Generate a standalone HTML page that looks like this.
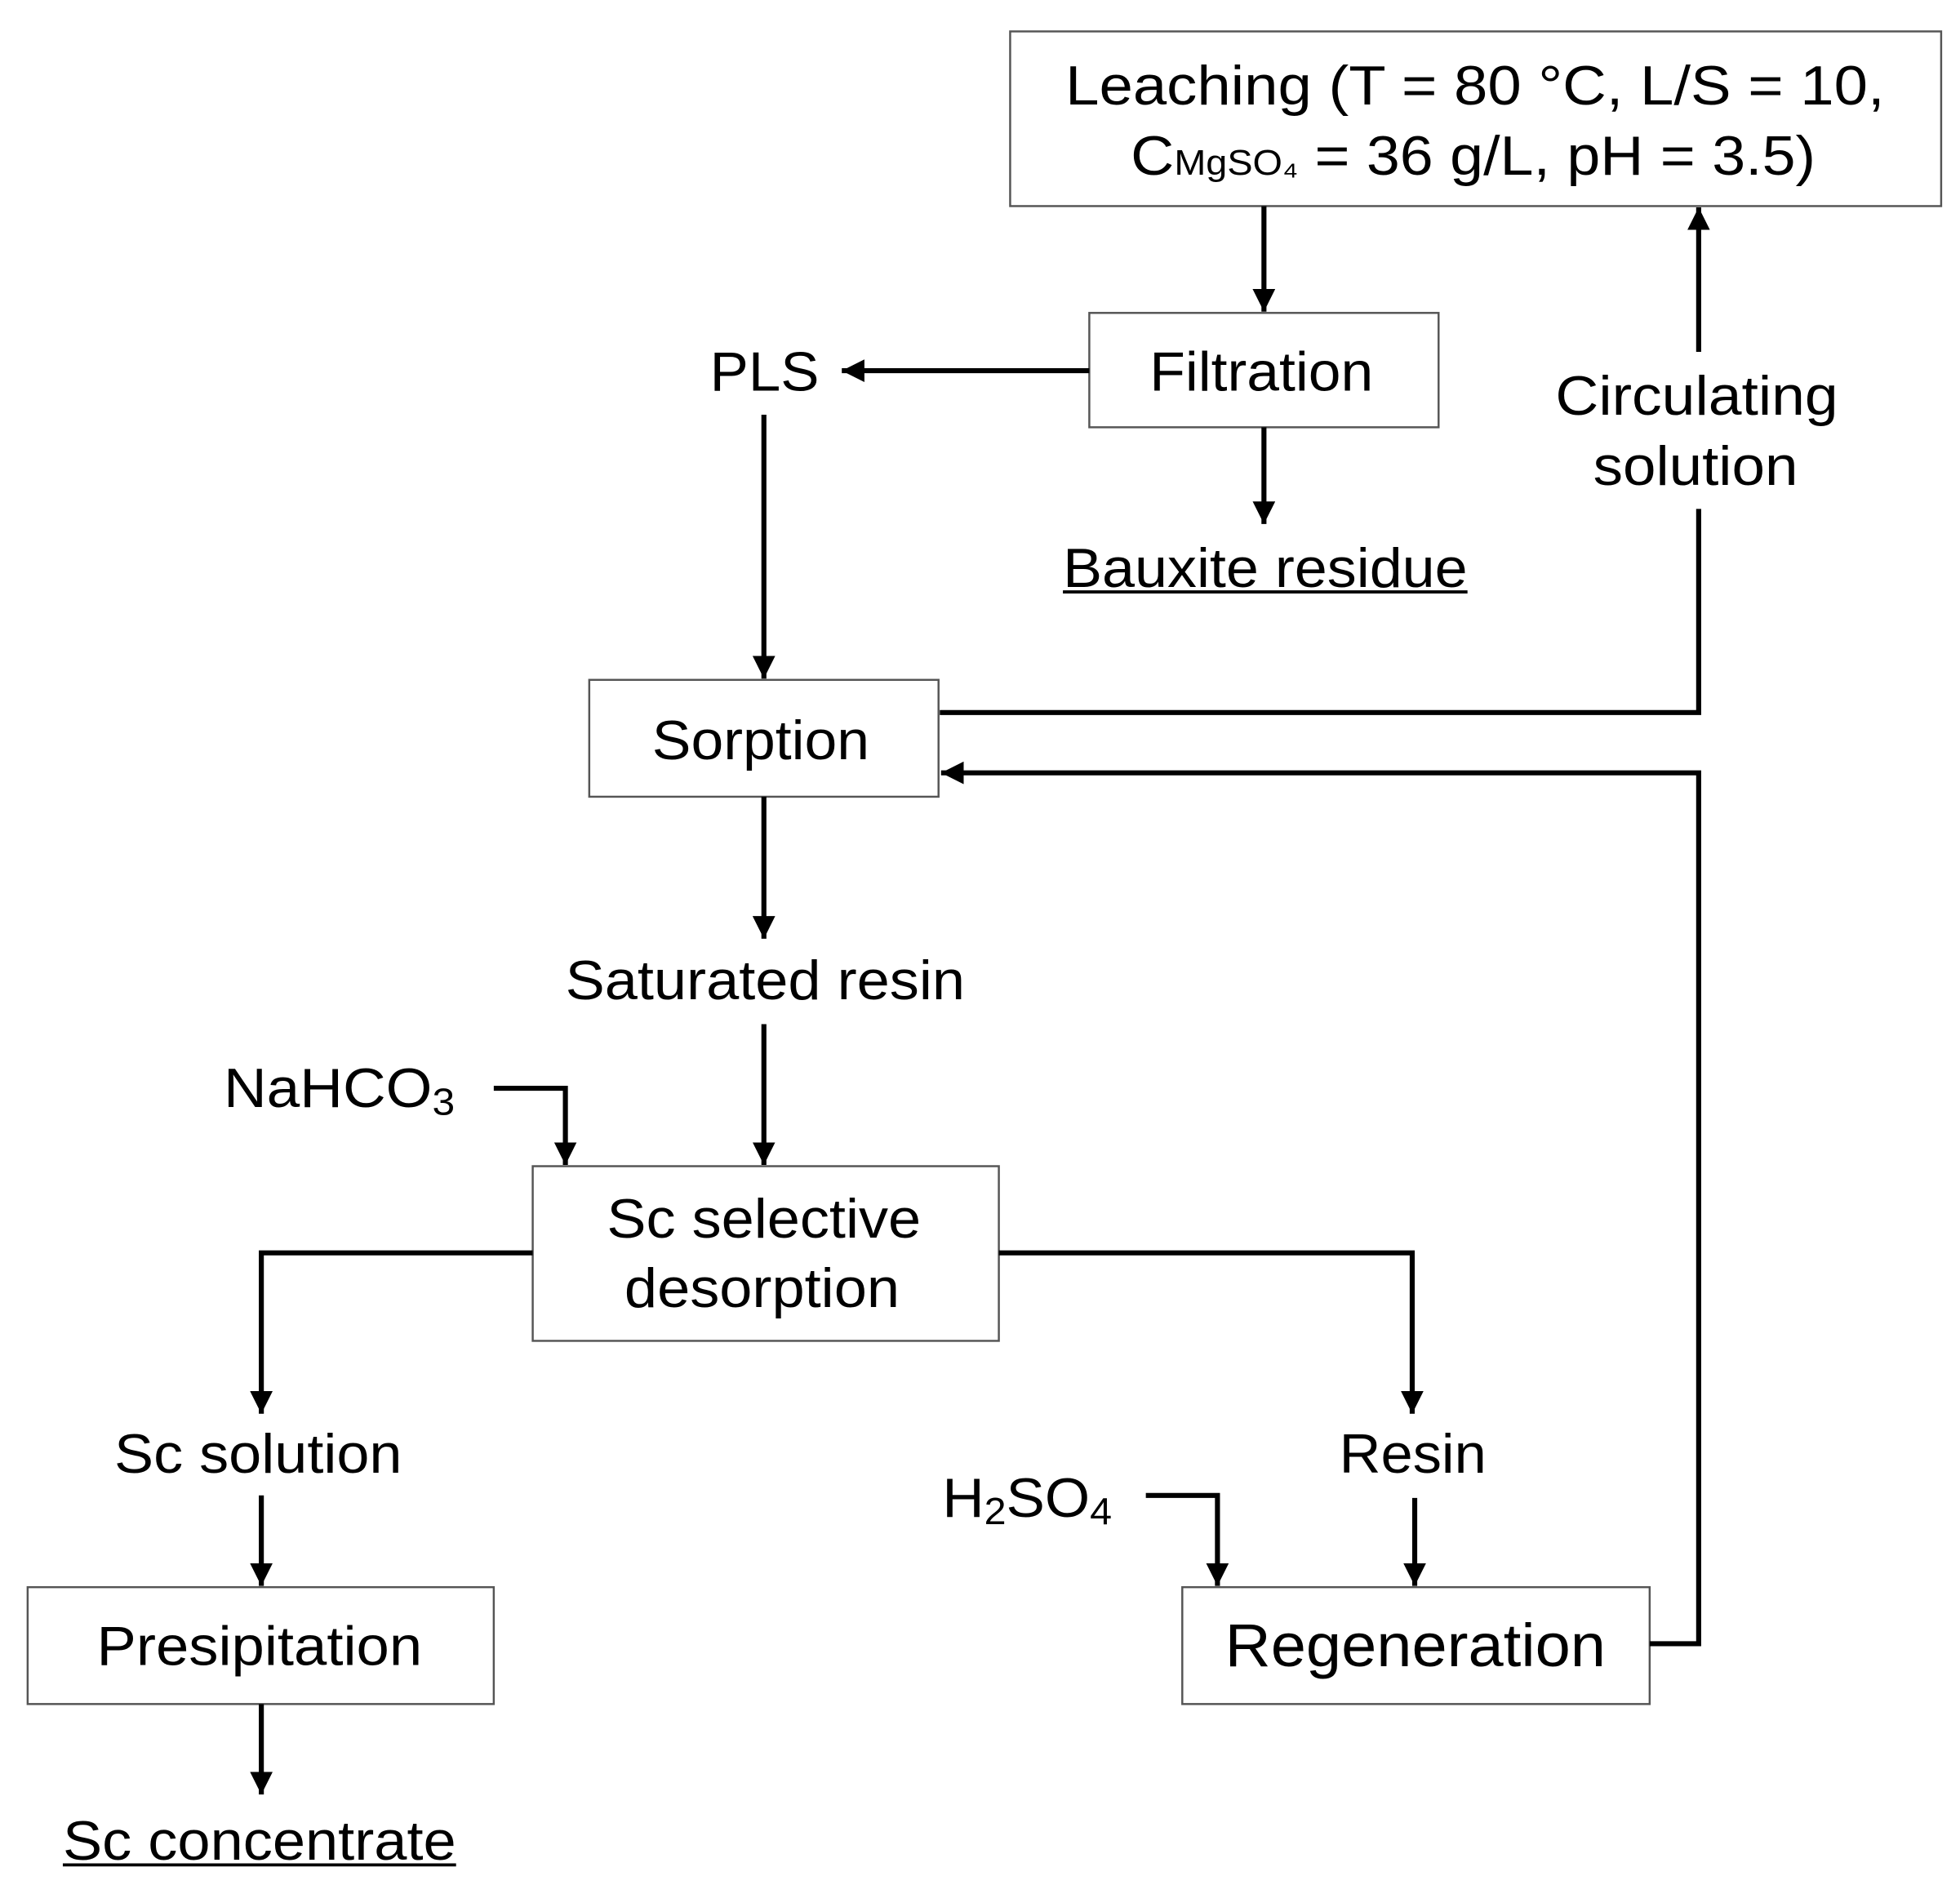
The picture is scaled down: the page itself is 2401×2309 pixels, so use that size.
<!DOCTYPE html>
<html><head><meta charset="utf-8"><style>html,body{margin:0;padding:0;background:#fff}svg{display:block}</style></head>
<body>
<svg width="2401" height="2309" viewBox="0 0 1560 1500" preserveAspectRatio="none" xmlns="http://www.w3.org/2000/svg" font-family="Liberation Sans, Arial, sans-serif" font-size="44" fill="#000">
<defs>
<marker id="a" viewBox="0 0 10 10" refX="10" refY="5" markerWidth="4.5" markerHeight="4.5" orient="auto" markerUnits="strokeWidth"><path d="M0,0 L10,5 L0,10 z" fill="#000"/></marker>
</defs>
<g fill="#fff" stroke="#555" stroke-width="1.6">
<rect x="804" y="25" width="741" height="139"/>
<rect x="867" y="249" width="278" height="91"/>
<rect x="469" y="541" width="278" height="93"/>
<rect x="424" y="928" width="371" height="139"/>
<rect x="22" y="1263" width="371" height="93"/>
<rect x="941" y="1263" width="372" height="93"/>
</g>
<g stroke="#000" stroke-width="4" fill="none">
<path d="M1006,164 V248" marker-end="url(#a)"/>
<path d="M867,295 H670" marker-end="url(#a)"/>
<path d="M1006,340 V417" marker-end="url(#a)"/>
<path d="M1352,280 V165" marker-end="url(#a)"/>
<path d="M748,567 H1352 V405"/>
<path d="M608,330 V540" marker-end="url(#a)"/>
<path d="M1313,1308 H1352 V615 H749" marker-end="url(#a)"/>
<path d="M608,634 V747" marker-end="url(#a)"/>
<path d="M608,815 V927" marker-end="url(#a)"/>
<path d="M393,866 H450 V927" marker-end="url(#a)"/>
<path d="M424,997 H208 V1125" marker-end="url(#a)"/>
<path d="M795,997 H1124 V1125" marker-end="url(#a)"/>
<path d="M208,1190 V1262" marker-end="url(#a)"/>
<path d="M208,1356 V1428" marker-end="url(#a)"/>
<path d="M912,1190 H969 V1262" marker-end="url(#a)"/>
<path d="M1126,1192 V1262" marker-end="url(#a)"/>
</g>
<g text-anchor="start" lengthAdjust="spacingAndGlyphs">
<text x="848" y="83" textLength="652" lengthAdjust="spacingAndGlyphs">Leaching  (T = 80 °C, L/S = 10,</text>
<text x="900" y="139" textLength="545" lengthAdjust="spacingAndGlyphs">C<tspan font-size="28">MgSO₄</tspan> = 36 g/L, pH = 3.5)</text>
<text x="915" y="311" textLength="178" lengthAdjust="spacingAndGlyphs">Filtration</text>
<text x="565" y="311" textLength="87" lengthAdjust="spacingAndGlyphs">PLS</text>
<text x="846" y="467" textLength="322" lengthAdjust="spacingAndGlyphs">Bauxite residue</text>
<text x="1238" y="330" textLength="225" lengthAdjust="spacingAndGlyphs">Circulating</text>
<text x="1268" y="386" textLength="163" lengthAdjust="spacingAndGlyphs">solution</text>
<text x="519" y="604" textLength="173" lengthAdjust="spacingAndGlyphs">Sorption</text>
<text x="450" y="795" textLength="318" lengthAdjust="spacingAndGlyphs">Saturated resin</text>
<text x="178" y="881" textLength="184" lengthAdjust="spacingAndGlyphs">NaHCO<tspan font-size="30" dy="6">3</tspan></text>
<text x="483" y="985" textLength="250" lengthAdjust="spacingAndGlyphs">Sc selective</text>
<text x="497" y="1040" textLength="219" lengthAdjust="spacingAndGlyphs">desorption</text>
<text x="91" y="1172" textLength="229" lengthAdjust="spacingAndGlyphs">Sc solution</text>
<text x="1066" y="1172" textLength="117" lengthAdjust="spacingAndGlyphs">Resin</text>
<text x="750" y="1207" textLength="135" lengthAdjust="spacingAndGlyphs">H<tspan font-size="30" dy="6">2</tspan><tspan dy="-6">SO</tspan><tspan font-size="30" dy="6">4</tspan></text>
<text x="77" y="1325" textLength="259" lengthAdjust="spacingAndGlyphs">Presipitation</text>
<text x="975" y="1326" font-size="48" textLength="303" lengthAdjust="spacingAndGlyphs">Regeneration</text>
<text x="50" y="1480" textLength="313" lengthAdjust="spacingAndGlyphs">Sc concentrate</text>
</g>
<g stroke="#000" stroke-width="2.5">
<path d="M846,471 H1168"/>
<path d="M50,1484 H363"/>
</g>
</svg>
</body></html>
